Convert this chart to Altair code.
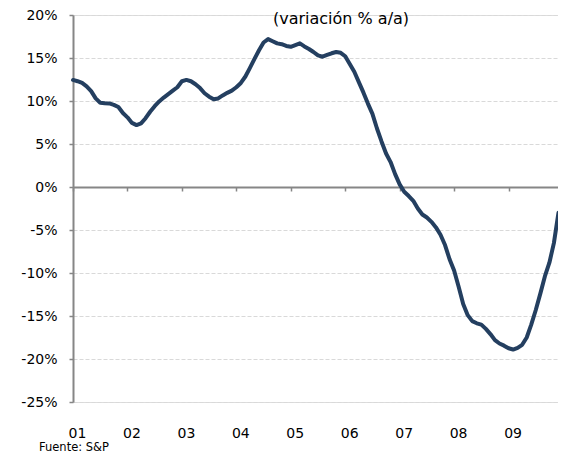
import altair as alt
import pandas as pd

# Monthly index: 0 = Jan 2001 ... 107 = Dec 2009
meses = list(range(108))
variacion = [
    12.45, 12.3, 12.1, 11.7, 11.15, 10.3, 9.8, 9.75, 9.72, 9.55,
    9.3, 8.6, 8.1, 7.45, 7.2, 7.4, 8.0, 8.75, 9.4, 9.95,
    10.4, 10.8, 11.2, 11.6, 12.3, 12.45, 12.3, 11.95, 11.5, 10.9,
    10.5, 10.2, 10.3, 10.65, 10.95, 11.2, 11.6, 12.1, 12.85, 13.85,
    14.9, 15.9, 16.8, 17.2, 16.95, 16.7, 16.6, 16.4, 16.3, 16.5,
    16.7, 16.35, 16.05, 15.7, 15.3, 15.15, 15.35, 15.55, 15.7, 15.6,
    15.2, 14.3, 13.4, 12.2, 11.0, 9.7, 8.5, 6.8, 5.3, 3.9,
    2.9, 1.5, 0.3, -0.55, -1.05, -1.6, -2.5, -3.2, -3.55, -4.05,
    -4.7, -5.55, -6.75, -8.4, -9.7, -11.6, -13.6, -14.9, -15.6, -15.85,
    -16.0, -16.5, -17.1, -17.8, -18.2, -18.45, -18.75, -18.9, -18.7, -18.35,
    -17.5, -16.0, -14.3, -12.4, -10.4, -8.8, -6.5, -3.0,
]
x_ticks = [0, 12, 24, 36, 48, 60, 72, 84, 96, 108]
x_labels = ["01", "02", "03", "04", "05", "06", "07", "08", "09", ""]
y_ticks = [-25, -20, -15, -10, -5, 0, 5, 10, 15, 20]
titulo = "(variación % a/a)"
fuente = "Fuente: S&P"

FONT = "DejaVu Sans"
AXIS_GRAY = "#868686"

df = pd.DataFrame({"mes": meses, "variacion": variacion})

label_map = "{" + ", ".join(f"'{v}': '{l}'" for v, l in zip(x_ticks, x_labels)) + "}"

line = alt.Chart(df).mark_line(
    color="#243f60", strokeWidth=4, strokeJoin="round", strokeCap="round"
).encode(
    x=alt.X(
        "mes:Q",
        scale=alt.Scale(domain=[0, 108], nice=False, zero=False),
        axis=alt.Axis(
            values=x_ticks,
            labelExpr=f"{label_map}[''+datum.value]",
            offset=-215,
            domainColor=AXIS_GRAY,
            domainWidth=2,
            tickColor=AXIS_GRAY,
            tickWidth=1.5,
            tickSize=4,
            labelPadding=235,
            labelOffset=4,
            labelFlush=False,
            labelOverlap=False,
            grid=False,
            title=None,
            labelFont=FONT,
            labelFontSize=14,
            labelColor="#000000",
            zindex=0,
        ),
    ),
    y=alt.Y(
        "variacion:Q",
        scale=alt.Scale(domain=[-25, 20], nice=False, zero=False),
        axis=alt.Axis(
            values=y_ticks,
            labelExpr="datum.value + '%'",
            grid=True,
            gridColor="#d9d9d9",
            gridDash=[4, 2],
            gridWidth=1,
            domainColor=AXIS_GRAY,
            domainWidth=2,
            tickColor=AXIS_GRAY,
            tickWidth=1.5,
            tickSize=4,
            labelPadding=12,
            title=None,
            labelFont=FONT,
            labelFontSize=14,
            labelColor="#000000",
            zindex=0,
        ),
    ),
)

title_text = alt.Chart(pd.DataFrame({"t": [titulo]})).mark_text(
    font=FONT, fontSize=16, color="#000000", align="center", baseline="alphabetic"
).encode(text="t:N", x=alt.value(268), y=alt.value(8.5))

source_text = alt.Chart(pd.DataFrame({"t": [fuente]})).mark_text(
    font=FONT, fontSize=11.5, color="#000000", align="left", baseline="alphabetic"
).encode(text="t:N", x=alt.value(-34), y=alt.value(436))

chart = alt.layer(line, title_text, source_text).properties(
    width=490,
    height=387,
    autosize=alt.AutoSizeParams(type="none"),
    padding={"left": 65, "top": 7, "right": -5, "bottom": 54},
).configure_view(stroke=None).configure(background="white")

chart.save("out.html", embed_options={"renderer": "svg", "actions": False})
